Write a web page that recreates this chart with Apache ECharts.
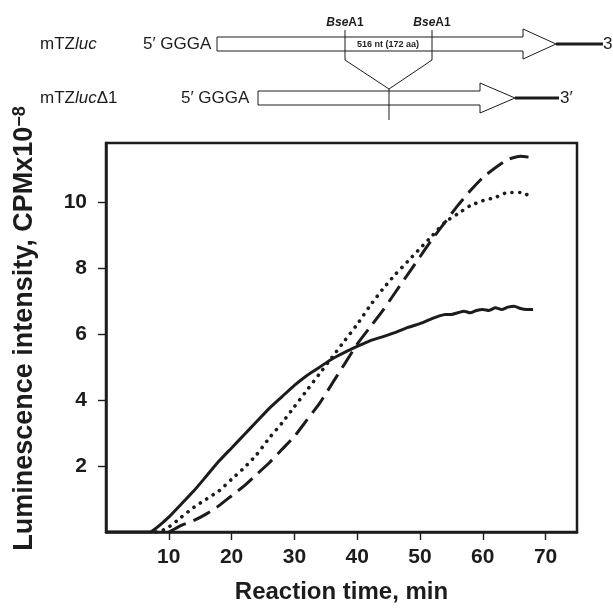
<!DOCTYPE html>
<html>
<head>
<meta charset="utf-8">
<script src="https://cdn.jsdelivr.net/npm/echarts@6/dist/echarts.min.js"></script>
<style>
html,body{margin:0;padding:0;background:#fff;}
#chart{width:613px;height:611px;}
</style>
</head>
<body>
<div id="chart"></div>
<script>
// ---- data ----
var solidTime   = [0, 7, 8, 9, 10, 12, 14, 16, 18, 20, 22, 24, 26, 28, 30, 32, 34, 36, 38, 40, 42, 44, 46, 48, 50, 52, 53, 54, 55, 56, 57, 58, 59, 60, 61, 62, 63, 64, 65, 66, 67, 68];
var solidValues = [0, 0, 0.12, 0.28, 0.45, 0.85, 1.25, 1.7, 2.15, 2.55, 2.95, 3.35, 3.75, 4.1, 4.45, 4.75, 5.0, 5.25, 5.45, 5.63, 5.8, 5.92, 6.05, 6.2, 6.32, 6.48, 6.55, 6.6, 6.6, 6.65, 6.7, 6.65, 6.72, 6.75, 6.72, 6.8, 6.75, 6.82, 6.85, 6.78, 6.75, 6.75];

var dottedTime   = [8, 9, 10, 12, 14, 16, 18, 20, 22, 24, 26, 28, 30, 32, 34, 36, 38, 40, 42, 44, 46, 48, 50, 52, 54, 56, 58, 60, 62, 64, 66, 68];
var dottedValues = [0, 0.05, 0.15, 0.45, 0.75, 1.0, 1.25, 1.6, 1.95, 2.35, 2.85, 3.3, 3.8, 4.3, 4.8, 5.3, 5.8, 6.3, 6.85, 7.35, 7.8, 8.2, 8.6, 9.0, 9.4, 9.65, 9.9, 10.05, 10.15, 10.3, 10.3, 10.15];

var dashedTime   = [10, 11, 12, 14, 16, 18, 20, 22, 24, 26, 28, 30, 32, 34, 36, 38, 40, 42, 44, 46, 48, 50, 52, 54, 56, 58, 60, 62, 64, 66, 68];
var dashedValues = [0, 0.1, 0.2, 0.35, 0.55, 0.8, 1.1, 1.4, 1.75, 2.1, 2.5, 2.9, 3.4, 3.9, 4.5, 5.1, 5.7, 6.2, 6.7, 7.25, 7.8, 8.35, 8.9, 9.4, 9.9, 10.35, 10.75, 11.05, 11.3, 11.4, 11.35];

var xTickValues = [10, 20, 30, 40, 50, 60, 70];
var yTickValues = [2, 4, 6, 8, 10];

function pairs(xs, ys) { return xs.map(function (x, i) { return [x, ys[i]]; }); }

var FONT = '"Liberation Sans", Arial, sans-serif';
var INK = '#1c1c1c';

var chart = echarts.init(document.getElementById('chart'), null, {renderer: 'canvas'});

function txt(text, x, y, size, opts) {
  opts = opts || {};
  return {
    type: 'text', z: 10,
    style: {
      text: text, x: x, y: y, fill: INK,
      fontFamily: FONT, fontSize: size,
      fontWeight: opts.weight || 'normal',
      fontStyle: opts.style || 'normal',
      align: opts.align || 'left', verticalAlign: 'middle',
      rich: opts.rich
    }
  };
}
function seg(x1, y1, x2, y2, w) {
  return { type: 'line', z: 10, shape: {x1: x1, y1: y1, x2: x2, y2: y2}, style: {stroke: INK, lineWidth: w} };
}
function arrow(x0, xh, xt, yc, hb, hh) {
  return {
    type: 'polygon', z: 9,
    shape: {points: [[x0, yc - hb], [xh, yc - hb], [xh, yc - hh], [xt, yc], [xh, yc + hh], [xh, yc + hb], [x0, yc + hb]]},
    style: {fill: '#fff', stroke: INK, lineWidth: 1}
  };
}
var italicRich = {
  i: {fontStyle: 'italic', fontFamily: FONT, fontSize: 17, fill: INK},
  n: {fontFamily: FONT, fontSize: 17, fill: INK}
};
var bseRich = {
  bi: {fontStyle: 'italic', fontWeight: 'bold', fontFamily: FONT, fontSize: 12, fill: INK},
  b: {fontWeight: 'bold', fontFamily: FONT, fontSize: 12, fill: INK}
};

var graphics = [
  // row 1
  txt('{n|mTZ}{i|luc}', 40, 44, 17, {rich: italicRich}),
  txt('5\u2032 GGGA', 143, 44, 17),
  arrow(217, 523, 556, 44, 7, 15),
  seg(556, 44, 603, 44, 3),
  txt('3\u2032', 603, 44, 17),
  // restriction sites
  txt('{bi|Bse}{b|A1}', 345, 23, 12, {align: 'center', rich: bseRich}),
  txt('{bi|Bse}{b|A1}', 432, 23, 12, {align: 'center', rich: bseRich}),
  seg(345, 30, 345, 60, 1),
  seg(432, 30, 432, 60, 1),
  txt('516 nt (172 aa)', 388, 45, 9, {align: 'center', weight: 'bold'}),
  seg(345, 60, 389, 89, 1),
  seg(432, 60, 389, 89, 1),
  // row 2
  txt('{n|mTZ}{i|luc}{n|\u03941}', 40, 98, 17, {rich: italicRich}),
  txt('5\u2032 GGGA', 181, 98, 17),
  arrow(258, 480, 515, 98, 7, 15),
  seg(515, 98, 559, 98, 3),
  txt('3\u2032', 560, 98, 17),
  seg(389, 89, 389, 120, 1)
];

var option = {
  backgroundColor: '#fff',
  animation: false,
  grid: {left: 106, top: 143, right: 36, bottom: 79, outerBoundsMode: 'none', containLabel: false,
         show: true, borderColor: INK, borderWidth: 2.5, backgroundColor: 'transparent'},
  xAxis: {
    type: 'value', min: 0, max: 75, interval: 10,
    name: 'Reaction time, min', nameLocation: 'middle', nameGap: 48,
    nameTextStyle: {fontFamily: FONT, fontSize: 24, fontWeight: 'bold', color: INK},
    axisLine: {show: true, lineStyle: {color: INK, width: 2.5}},
    axisTick: {show: true, length: 8, customValues: xTickValues, lineStyle: {color: INK, width: 1.4}},
    axisLabel: {customValues: xTickValues, margin: 15, fontFamily: FONT, fontSize: 21, fontWeight: 'bold', color: INK},
    splitLine: {show: false}
  },
  yAxis: {
    type: 'value', min: 0, max: 11.8, interval: 2,
    name: 'Luminescence intensity, CPMx10{sup|\u22128}', nameLocation: 'middle', nameGap: 68,
    nameTextStyle: {fontFamily: FONT, fontSize: 27, fontWeight: 'bold', color: INK, padding: [0, 0, 0, 18],
      rich: {sup: {fontFamily: FONT, fontSize: 18, fontWeight: 'bold', color: INK, verticalAlign: 'top', lineHeight: 16}}},
    axisLine: {show: true, lineStyle: {color: INK, width: 2.5}},
    axisTick: {show: true, length: 8, customValues: yTickValues, lineStyle: {color: INK, width: 1.4}},
    axisLabel: {customValues: yTickValues, margin: 19, fontFamily: FONT, fontSize: 21, fontWeight: 'bold', color: INK},
    splitLine: {show: false}
  },
  series: [
    {type: 'line', name: 'solid', data: pairs(solidTime, solidValues), showSymbol: false, smooth: 0.2,
     lineStyle: {color: INK, width: 3}, z: 3},
    {type: 'line', name: 'dotted', data: pairs(dottedTime, dottedValues), showSymbol: false, smooth: 0.2,
     lineStyle: {color: INK, width: 3.6, type: [0.1, 7.5], cap: 'round'}, z: 2},
    {type: 'line', name: 'dashed', data: pairs(dashedTime, dashedValues), showSymbol: false, smooth: 0.2,
     lineStyle: {color: INK, width: 3, type: [19, 8]}, z: 2}
  ],
  graphic: graphics
};
chart.setOption(option);
</script>
</body>
</html>
